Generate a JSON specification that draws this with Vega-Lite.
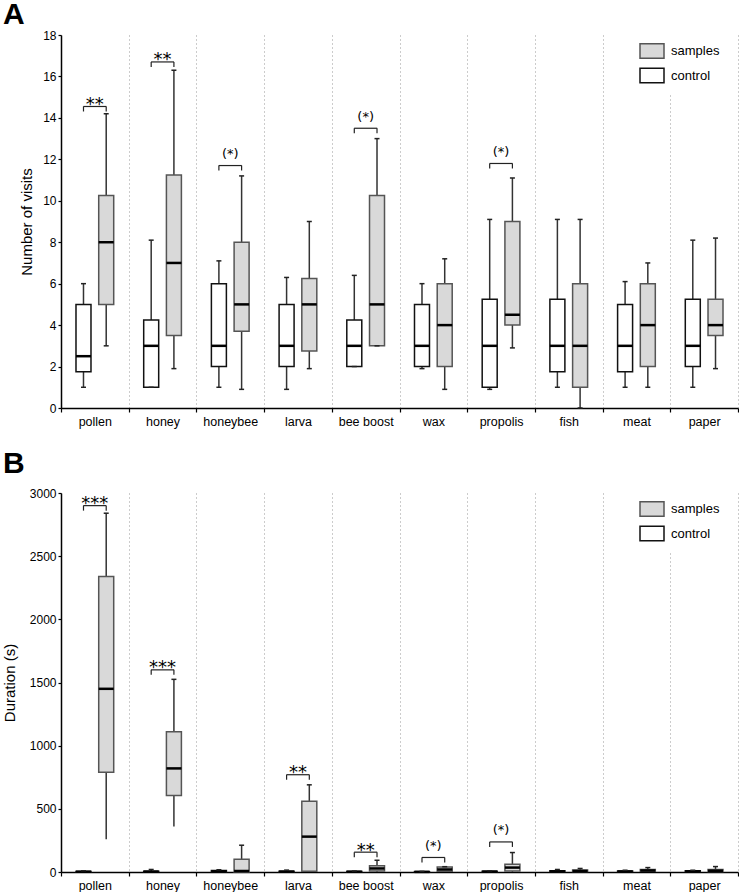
{
  "$schema": "https://vega.github.io/schema/vega-lite/v6.json",
  "background": "white",
  "padding": {"left": 2, "top": 0, "right": 0, "bottom": 0},
  "spacing": 21,
  "config": {
    "font": "Liberation Sans",
    "view": {"stroke": null},
    "tick": {"opacity": 1},
    "axis": {"labelFont": "Liberation Sans", "titleFont": "Liberation Sans", "labelColor": "#000", "titleColor": "#000", "titleFontWeight": "normal", "domainColor": "#000", "tickColor": "#000", "domainWidth": 1.5, "tickWidth": 1.2, "labelFontSize": 12, "titleFontSize": 15, "grid": false},
    "axisX": {"tickBand": "extent", "grid": true, "gridDash": [1, 3], "gridColor": "#999", "gridWidth": 1, "labelAngle": 0, "labelFontSize": 12.5, "tickSize": 4, "labelPadding": 3},
    "axisY": {"tickSize": 3, "labelPadding": 2, "format": "d"},
    "legend": {"title": null, "orient": "none", "fillColor": "white", "padding": 9, "symbolType": "M-1,-0.6H1V0.6H-1Z", "symbolSize": 576, "symbolStrokeWidth": 1.5, "labelFontSize": 13, "labelColor": "#000", "labelOffset": 6, "rowPadding": 0.5},
    "title": {"fontSize": 30, "fontWeight": "bold", "anchor": "start", "frame": "group", "dx": -58, "color": "#000", "font": "Liberation Sans"}
  },
  "resolve": {"scale": {"y": "independent", "fill": "independent", "stroke": "independent"}, "legend": {"fill": "independent", "stroke": "independent"}},
  "datasets": {
    "visits": [
      {"cat": "pollen", "grp": "control", "min": 1, "q1": 1.75, "med": 2.5, "q3": 5, "max": 6},
      {"cat": "pollen", "grp": "samples", "min": 3, "q1": 5, "med": 8, "q3": 10.25, "max": 14.2},
      {"cat": "honey", "grp": "control", "min": 1, "q1": 1, "med": 3, "q3": 4.25, "max": 8.1},
      {"cat": "honey", "grp": "samples", "min": 1.9, "q1": 3.5, "med": 7, "q3": 11.25, "max": 16.3},
      {"cat": "honeybee", "grp": "control", "min": 1, "q1": 2, "med": 3, "q3": 6, "max": 7.1},
      {"cat": "honeybee", "grp": "samples", "min": 0.9, "q1": 3.7, "med": 5, "q3": 8, "max": 11.2},
      {"cat": "larva", "grp": "control", "min": 0.9, "q1": 2, "med": 3, "q3": 5, "max": 6.3},
      {"cat": "larva", "grp": "samples", "min": 1.9, "q1": 2.75, "med": 5, "q3": 6.25, "max": 9},
      {"cat": "bee boost", "grp": "control", "min": 2, "q1": 2, "med": 3, "q3": 4.25, "max": 6.4},
      {"cat": "bee boost", "grp": "samples", "min": 3, "q1": 3, "med": 5, "q3": 10.25, "max": 13},
      {"cat": "wax", "grp": "control", "min": 1.9, "q1": 2, "med": 3, "q3": 5, "max": 6},
      {"cat": "wax", "grp": "samples", "min": 0.9, "q1": 2, "med": 4, "q3": 6, "max": 7.2},
      {"cat": "propolis", "grp": "control", "min": 0.9, "q1": 1, "med": 3, "q3": 5.25, "max": 9.1},
      {"cat": "propolis", "grp": "samples", "min": 2.9, "q1": 4, "med": 4.5, "q3": 9, "max": 11.1},
      {"cat": "fish", "grp": "control", "min": 1, "q1": 1.75, "med": 3, "q3": 5.25, "max": 9.1},
      {"cat": "fish", "grp": "samples", "min": 0, "q1": 1, "med": 3, "q3": 6, "max": 9.1},
      {"cat": "meat", "grp": "control", "min": 1, "q1": 1.75, "med": 3, "q3": 5, "max": 6.1},
      {"cat": "meat", "grp": "samples", "min": 1, "q1": 2, "med": 4, "q3": 6, "max": 7},
      {"cat": "paper", "grp": "control", "min": 1, "q1": 2, "med": 3, "q3": 5.25, "max": 8.1},
      {"cat": "paper", "grp": "samples", "min": 1.9, "q1": 3.5, "med": 4, "q3": 5.25, "max": 8.2}
    ],
    "duration": [
      {"cat": "pollen", "grp": "control", "min": 0, "q1": 0, "med": 2, "q3": 5, "max": 10},
      {"cat": "pollen", "grp": "samples", "min": 260, "q1": 790, "med": 1450, "q3": 2340, "max": 2840},
      {"cat": "honey", "grp": "control", "min": 0, "q1": 0, "med": 3, "q3": 6, "max": 20},
      {"cat": "honey", "grp": "samples", "min": 360, "q1": 605, "med": 820, "q3": 1110, "max": 1525},
      {"cat": "honeybee", "grp": "control", "min": 0, "q1": 0, "med": 5, "q3": 12, "max": 18},
      {"cat": "honeybee", "grp": "samples", "min": 0, "q1": 0, "med": 8, "q3": 100, "max": 212},
      {"cat": "larva", "grp": "control", "min": 0, "q1": 0, "med": 3, "q3": 6, "max": 15},
      {"cat": "larva", "grp": "samples", "min": 0, "q1": 5, "med": 280, "q3": 560, "max": 690},
      {"cat": "bee boost", "grp": "control", "min": 0, "q1": 0, "med": 2, "q3": 5, "max": 8},
      {"cat": "bee boost", "grp": "samples", "min": 0, "q1": 8, "med": 28, "q3": 50, "max": 93},
      {"cat": "wax", "grp": "control", "min": 0, "q1": 0, "med": 1, "q3": 3, "max": 5},
      {"cat": "wax", "grp": "samples", "min": 0, "q1": 5, "med": 20, "q3": 40, "max": 42},
      {"cat": "propolis", "grp": "control", "min": 0, "q1": 0, "med": 3, "q3": 6, "max": 10},
      {"cat": "propolis", "grp": "samples", "min": 0, "q1": 8, "med": 35, "q3": 62, "max": 154},
      {"cat": "fish", "grp": "control", "min": 0, "q1": 2, "med": 5, "q3": 10, "max": 20},
      {"cat": "fish", "grp": "samples", "min": 0, "q1": 3, "med": 8, "q3": 15, "max": 28},
      {"cat": "meat", "grp": "control", "min": 0, "q1": 1, "med": 4, "q3": 8, "max": 14},
      {"cat": "meat", "grp": "samples", "min": 0, "q1": 5, "med": 12, "q3": 20, "max": 35},
      {"cat": "paper", "grp": "control", "min": 0, "q1": 2, "med": 5, "q3": 10, "max": 14},
      {"cat": "paper", "grp": "samples", "min": 0, "q1": 4, "med": 10, "q3": 19, "max": 43}
    ],
    "bracketsA": [
      {"cat": "pollen", "y": 14.55, "label": "**"},
      {"cat": "honey", "y": 16.7, "label": "**"},
      {"cat": "honeybee", "y": 11.7, "label": "(*)"},
      {"cat": "bee boost", "y": 13.5, "label": "(*)"},
      {"cat": "propolis", "y": 11.8, "label": "(*)"}
    ],
    "bracketsB": [
      {"cat": "pollen", "y": 2900, "label": "***"},
      {"cat": "honey", "y": 1600, "label": "***"},
      {"cat": "larva", "y": 770, "label": "**"},
      {"cat": "bee boost", "y": 157, "label": "**"},
      {"cat": "wax", "y": 115, "label": "(*)"},
      {"cat": "propolis", "y": 238, "label": "(*)"}
    ]
  },
  "vconcat": [
    {
      "width": 677,
      "height": 373,
      "title": {"text": "A", "offset": -1},
      "layer": [
        {
          "data": {"name": "visits"},
          "mark": {"type": "rule", "color": "#333", "strokeWidth": 1.5},
          "encoding": {
            "x": {"field": "cat", "type": "nominal", "title": null, "sort": null, "scale": {"domain": ["pollen", "honey", "honeybee", "larva", "bee boost", "wax", "propolis", "fish", "meat", "paper"], "paddingInner": 0, "paddingOuter": 0}},
            "xOffset": {"field": "grp", "type": "nominal", "scale": {"domain": ["control", "samples"], "paddingInner": 0.34, "paddingOuter": 0.66}},
            "y": {"field": "min", "type": "quantitative", "title": "Number of visits", "scale": {"domain": [0, 18], "nice": false}, "axis": {"values": [0, 2, 4, 6, 8, 10, 12, 14, 16, 18], "titlePadding": 8}},
            "y2": {"field": "max"}
          }
        },
        {
          "data": {"name": "visits"},
          "mark": {"type": "bar", "strokeWidth": 1.5},
          "encoding": {
            "x": {"field": "cat", "type": "nominal", "title": null, "sort": null, "scale": {"domain": ["pollen", "honey", "honeybee", "larva", "bee boost", "wax", "propolis", "fish", "meat", "paper"], "paddingInner": 0, "paddingOuter": 0}},
            "xOffset": {"field": "grp", "type": "nominal", "scale": {"domain": ["control", "samples"], "paddingInner": 0.34, "paddingOuter": 0.66}},
            "y": {"field": "q1", "type": "quantitative", "title": "Number of visits", "scale": {"domain": [0, 18], "nice": false}},
            "y2": {"field": "q3"},
            "fill": {"field": "grp", "type": "nominal", "scale": {"domain": ["samples", "control"], "range": ["#d9d9d9", "#ffffff"]}, "legend": {"legendX": 569, "legendY": -6}},
            "stroke": {"field": "grp", "type": "nominal", "scale": {"domain": ["samples", "control"], "range": ["#555555", "#111111"]}, "legend": {"legendX": 569, "legendY": -6}}
          }
        },
        {
          "data": {"name": "visits"},
          "mark": {"type": "tick", "color": "#000", "thickness": 2.5, "size": 15},
          "encoding": {
            "x": {"field": "cat", "type": "nominal", "title": null, "sort": null, "scale": {"domain": ["pollen", "honey", "honeybee", "larva", "bee boost", "wax", "propolis", "fish", "meat", "paper"], "paddingInner": 0, "paddingOuter": 0}},
            "xOffset": {"field": "grp", "type": "nominal", "scale": {"domain": ["control", "samples"], "paddingInner": 0.34, "paddingOuter": 0.66}},
            "y": {"field": "med", "type": "quantitative", "title": "Number of visits", "scale": {"domain": [0, 18], "nice": false}}
          }
        },
        {
          "data": {"name": "visits"},
          "mark": {"type": "tick", "color": "#222", "thickness": 1.5, "size": 5},
          "encoding": {
            "x": {"field": "cat", "type": "nominal", "title": null, "sort": null, "scale": {"domain": ["pollen", "honey", "honeybee", "larva", "bee boost", "wax", "propolis", "fish", "meat", "paper"], "paddingInner": 0, "paddingOuter": 0}},
            "xOffset": {"field": "grp", "type": "nominal", "scale": {"domain": ["control", "samples"], "paddingInner": 0.34, "paddingOuter": 0.66}},
            "y": {"field": "max", "type": "quantitative", "title": "Number of visits", "scale": {"domain": [0, 18], "nice": false}}
          }
        },
        {
          "data": {"name": "visits"},
          "mark": {"type": "tick", "color": "#222", "thickness": 1.5, "size": 5},
          "encoding": {
            "x": {"field": "cat", "type": "nominal", "title": null, "sort": null, "scale": {"domain": ["pollen", "honey", "honeybee", "larva", "bee boost", "wax", "propolis", "fish", "meat", "paper"], "paddingInner": 0, "paddingOuter": 0}},
            "xOffset": {"field": "grp", "type": "nominal", "scale": {"domain": ["control", "samples"], "paddingInner": 0.34, "paddingOuter": 0.66}},
            "y": {"field": "min", "type": "quantitative", "title": "Number of visits", "scale": {"domain": [0, 18], "nice": false}}
          }
        },
        {
          "data": {"name": "bracketsA"},
          "mark": {"type": "tick", "color": "#222", "thickness": 1.2, "size": 23},
          "encoding": {
            "x": {"field": "cat", "type": "nominal", "title": null, "sort": null, "scale": {"domain": ["pollen", "honey", "honeybee", "larva", "bee boost", "wax", "propolis", "fish", "meat", "paper"], "paddingInner": 0, "paddingOuter": 0}},
            "y": {"field": "y", "type": "quantitative", "title": "Number of visits", "scale": {"domain": [0, 18], "nice": false}}
          }
        },
        {
          "data": {"name": "bracketsA"},
          "mark": {"type": "tick", "orient": "vertical", "color": "#222", "thickness": 1.2, "size": 5, "yOffset": 2.5},
          "encoding": {
            "x": {"field": "cat", "type": "nominal", "title": null, "sort": null, "scale": {"domain": ["pollen", "honey", "honeybee", "larva", "bee boost", "wax", "propolis", "fish", "meat", "paper"], "paddingInner": 0, "paddingOuter": 0}},
            "xOffset": {"datum": "control", "type": "nominal", "scale": {"domain": ["control", "samples"], "paddingInner": 0.34, "paddingOuter": 0.66}},
            "y": {"field": "y", "type": "quantitative", "title": "Number of visits", "scale": {"domain": [0, 18], "nice": false}}
          }
        },
        {
          "data": {"name": "bracketsA"},
          "mark": {"type": "tick", "orient": "vertical", "color": "#222", "thickness": 1.2, "size": 5, "yOffset": 2.5},
          "encoding": {
            "x": {"field": "cat", "type": "nominal", "title": null, "sort": null, "scale": {"domain": ["pollen", "honey", "honeybee", "larva", "bee boost", "wax", "propolis", "fish", "meat", "paper"], "paddingInner": 0, "paddingOuter": 0}},
            "xOffset": {"datum": "samples", "type": "nominal", "scale": {"domain": ["control", "samples"], "paddingInner": 0.34, "paddingOuter": 0.66}},
            "y": {"field": "y", "type": "quantitative", "title": "Number of visits", "scale": {"domain": [0, 18], "nice": false}}
          }
        },
        {
          "data": {"name": "bracketsA"},
          "transform": [{"filter": "indexof(datum.label, '(') < 0"}],
          "mark": {"type": "text", "font": "DejaVu Sans", "fontSize": 18, "baseline": "alphabetic", "dy": 3.5, "color": "#000"},
          "encoding": {
            "x": {"field": "cat", "type": "nominal", "title": null, "sort": null, "scale": {"domain": ["pollen", "honey", "honeybee", "larva", "bee boost", "wax", "propolis", "fish", "meat", "paper"], "paddingInner": 0, "paddingOuter": 0}},
            "y": {"field": "y", "type": "quantitative", "title": "Number of visits", "scale": {"domain": [0, 18], "nice": false}},
            "text": {"field": "label"}
          }
        },
        {
          "data": {"name": "bracketsA"},
          "transform": [{"filter": "indexof(datum.label, '(') >= 0"}],
          "mark": {"type": "text", "font": "DejaVu Sans", "fontSize": 13, "baseline": "alphabetic", "dy": -7.5, "color": "#000"},
          "encoding": {
            "x": {"field": "cat", "type": "nominal", "title": null, "sort": null, "scale": {"domain": ["pollen", "honey", "honeybee", "larva", "bee boost", "wax", "propolis", "fish", "meat", "paper"], "paddingInner": 0, "paddingOuter": 0}},
            "y": {"field": "y", "type": "quantitative", "title": "Number of visits", "scale": {"domain": [0, 18], "nice": false}},
            "text": {"field": "label"}
          }
        }
      ]
    },
    {
      "width": 677,
      "height": 379,
      "title": {"text": "B", "offset": 8},
      "layer": [
        {
          "data": {"name": "duration"},
          "mark": {"type": "rule", "color": "#333", "strokeWidth": 1.5},
          "encoding": {
            "x": {"field": "cat", "type": "nominal", "title": null, "sort": null, "scale": {"domain": ["pollen", "honey", "honeybee", "larva", "bee boost", "wax", "propolis", "fish", "meat", "paper"], "paddingInner": 0, "paddingOuter": 0}},
            "xOffset": {"field": "grp", "type": "nominal", "scale": {"domain": ["control", "samples"], "paddingInner": 0.34, "paddingOuter": 0.66}},
            "y": {"field": "min", "type": "quantitative", "title": "Duration (s)", "scale": {"domain": [0, 3000], "nice": false}, "axis": {"values": [0, 500, 1000, 1500, 2000, 2500, 3000], "titlePadding": 12}},
            "y2": {"field": "max"}
          }
        },
        {
          "data": {"name": "duration"},
          "mark": {"type": "bar", "strokeWidth": 1.5},
          "encoding": {
            "x": {"field": "cat", "type": "nominal", "title": null, "sort": null, "scale": {"domain": ["pollen", "honey", "honeybee", "larva", "bee boost", "wax", "propolis", "fish", "meat", "paper"], "paddingInner": 0, "paddingOuter": 0}},
            "xOffset": {"field": "grp", "type": "nominal", "scale": {"domain": ["control", "samples"], "paddingInner": 0.34, "paddingOuter": 0.66}},
            "y": {"field": "q1", "type": "quantitative", "title": "Duration (s)", "scale": {"domain": [0, 3000], "nice": false}},
            "y2": {"field": "q3"},
            "fill": {"field": "grp", "type": "nominal", "scale": {"domain": ["samples", "control"], "range": ["#d9d9d9", "#ffffff"]}, "legend": {"legendX": 569, "legendY": -6}},
            "stroke": {"field": "grp", "type": "nominal", "scale": {"domain": ["samples", "control"], "range": ["#555555", "#111111"]}, "legend": {"legendX": 569, "legendY": -6}}
          }
        },
        {
          "data": {"name": "duration"},
          "mark": {"type": "tick", "color": "#000", "thickness": 2.5, "size": 15},
          "encoding": {
            "x": {"field": "cat", "type": "nominal", "title": null, "sort": null, "scale": {"domain": ["pollen", "honey", "honeybee", "larva", "bee boost", "wax", "propolis", "fish", "meat", "paper"], "paddingInner": 0, "paddingOuter": 0}},
            "xOffset": {"field": "grp", "type": "nominal", "scale": {"domain": ["control", "samples"], "paddingInner": 0.34, "paddingOuter": 0.66}},
            "y": {"field": "med", "type": "quantitative", "title": "Duration (s)", "scale": {"domain": [0, 3000], "nice": false}}
          }
        },
        {
          "data": {"name": "duration"},
          "mark": {"type": "tick", "color": "#222", "thickness": 1.5, "size": 5},
          "encoding": {
            "x": {"field": "cat", "type": "nominal", "title": null, "sort": null, "scale": {"domain": ["pollen", "honey", "honeybee", "larva", "bee boost", "wax", "propolis", "fish", "meat", "paper"], "paddingInner": 0, "paddingOuter": 0}},
            "xOffset": {"field": "grp", "type": "nominal", "scale": {"domain": ["control", "samples"], "paddingInner": 0.34, "paddingOuter": 0.66}},
            "y": {"field": "max", "type": "quantitative", "title": "Duration (s)", "scale": {"domain": [0, 3000], "nice": false}}
          }
        },
        {
          "data": {"name": "bracketsB"},
          "mark": {"type": "tick", "color": "#222", "thickness": 1.2, "size": 23},
          "encoding": {
            "x": {"field": "cat", "type": "nominal", "title": null, "sort": null, "scale": {"domain": ["pollen", "honey", "honeybee", "larva", "bee boost", "wax", "propolis", "fish", "meat", "paper"], "paddingInner": 0, "paddingOuter": 0}},
            "y": {"field": "y", "type": "quantitative", "title": "Duration (s)", "scale": {"domain": [0, 3000], "nice": false}}
          }
        },
        {
          "data": {"name": "bracketsB"},
          "mark": {"type": "tick", "orient": "vertical", "color": "#222", "thickness": 1.2, "size": 5, "yOffset": 2.5},
          "encoding": {
            "x": {"field": "cat", "type": "nominal", "title": null, "sort": null, "scale": {"domain": ["pollen", "honey", "honeybee", "larva", "bee boost", "wax", "propolis", "fish", "meat", "paper"], "paddingInner": 0, "paddingOuter": 0}},
            "xOffset": {"datum": "control", "type": "nominal", "scale": {"domain": ["control", "samples"], "paddingInner": 0.34, "paddingOuter": 0.66}},
            "y": {"field": "y", "type": "quantitative", "title": "Duration (s)", "scale": {"domain": [0, 3000], "nice": false}}
          }
        },
        {
          "data": {"name": "bracketsB"},
          "mark": {"type": "tick", "orient": "vertical", "color": "#222", "thickness": 1.2, "size": 5, "yOffset": 2.5},
          "encoding": {
            "x": {"field": "cat", "type": "nominal", "title": null, "sort": null, "scale": {"domain": ["pollen", "honey", "honeybee", "larva", "bee boost", "wax", "propolis", "fish", "meat", "paper"], "paddingInner": 0, "paddingOuter": 0}},
            "xOffset": {"datum": "samples", "type": "nominal", "scale": {"domain": ["control", "samples"], "paddingInner": 0.34, "paddingOuter": 0.66}},
            "y": {"field": "y", "type": "quantitative", "title": "Duration (s)", "scale": {"domain": [0, 3000], "nice": false}}
          }
        },
        {
          "data": {"name": "bracketsB"},
          "transform": [{"filter": "indexof(datum.label, '(') < 0"}],
          "mark": {"type": "text", "font": "DejaVu Sans", "fontSize": 18, "baseline": "alphabetic", "dy": 3.5, "color": "#000"},
          "encoding": {
            "x": {"field": "cat", "type": "nominal", "title": null, "sort": null, "scale": {"domain": ["pollen", "honey", "honeybee", "larva", "bee boost", "wax", "propolis", "fish", "meat", "paper"], "paddingInner": 0, "paddingOuter": 0}},
            "y": {"field": "y", "type": "quantitative", "title": "Duration (s)", "scale": {"domain": [0, 3000], "nice": false}},
            "text": {"field": "label"}
          }
        },
        {
          "data": {"name": "bracketsB"},
          "transform": [{"filter": "indexof(datum.label, '(') >= 0"}],
          "mark": {"type": "text", "font": "DejaVu Sans", "fontSize": 13, "baseline": "alphabetic", "dy": -7.5, "color": "#000"},
          "encoding": {
            "x": {"field": "cat", "type": "nominal", "title": null, "sort": null, "scale": {"domain": ["pollen", "honey", "honeybee", "larva", "bee boost", "wax", "propolis", "fish", "meat", "paper"], "paddingInner": 0, "paddingOuter": 0}},
            "y": {"field": "y", "type": "quantitative", "title": "Duration (s)", "scale": {"domain": [0, 3000], "nice": false}},
            "text": {"field": "label"}
          }
        }
      ]
    }
  ]
}
